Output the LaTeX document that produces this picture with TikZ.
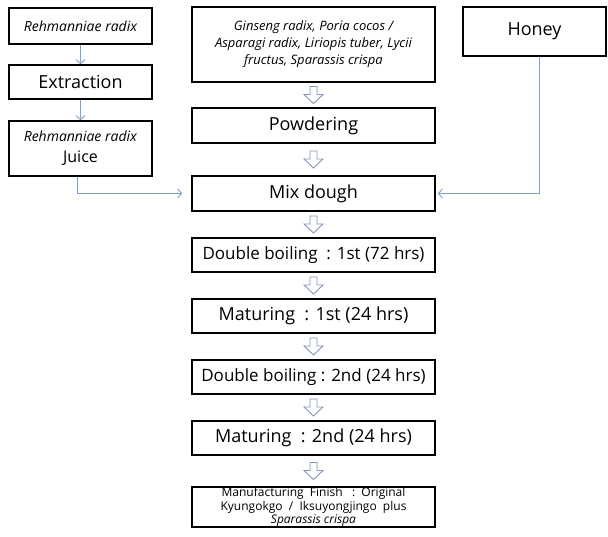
\documentclass[tikz,border=0pt]{standalone}
\usepackage{fontspec}
\setmainfont{Open Sans}
\usetikzlibrary{calc,arrows.meta}
\definecolor{linecol}{HTML}{7F9FD0}
\definecolor{arrcol}{HTML}{8096BE}
\tikzset{
  box/.style={draw=black, line width=1.6pt, minimum width=#1, inner sep=0pt, align=center, fill=white},
  box/.default=243pt,
  conn/.style={draw=linecol, line width=0.9pt, -{Straight Barb[length=4pt,width=9pt,line width=0.9pt]}},
  harrow/.pic={\draw[arrcol, line width=0.9pt, fill=white] (-3.5,8.5) -- (3.5,8.5) -- (3.5,0.5) -- (9.5,0.5) -- (0,-8.5) -- (-9.5,0.5) -- (-3.5,0.5) -- cycle;},
  big/.style={font=\fontsize{18}{21}\selectfont},
  mid/.style={font=\fontsize{17}{20}\selectfont},
  ital/.style={font=\fontsize{13}{17}\selectfont\itshape},
  lital/.style={font=\fontsize{14}{17}\selectfont\itshape},
}
\begin{document}
\begin{tikzpicture}[x=1pt,y=1pt]
\useasboundingbox (0,0) rectangle (608,-537);
% left column
\node[box=143pt, minimum height=36pt, lital] (r1) at (80.5,-26) {Rehmanniae radix};
\node[box=143pt, minimum height=34pt, big] (ex) at (80.5,-82) {Extraction};
\node[box=143pt, minimum height=55pt, font=\fontsize{14}{20}\selectfont] (ju) at (80.5,-148.5) {\textit{Rehmanniae radix}\\[1pt]{\fontsize{16}{19}\selectfont Juice}};
% middle column
\node[box, minimum height=75pt, ital] (herbs) at (313.5,-44.5) {Ginseng radix, Poria cocos /\\Asparagi radix, Liriopis tuber, Lycii\\fructus, Sparassis crispa};
\node[box, minimum height=35pt, big] (pw) at (313.5,-125.5) {Powdering};
\node[box, minimum height=35pt, big] (mx) at (313.5,-193.5) {Mix dough};
\node[box, minimum height=34pt, mid] (db1) at (313.5,-255) {Double boiling~~: 1st (72 hrs)};
\node[box, minimum height=34pt, big] (mt1) at (313.5,-316) {Maturing~~: 1st (24 hrs)};
\node[box, minimum height=34pt, mid] (db2) at (313.5,-377) {Double boiling : 2nd (24 hrs)};
\node[box, minimum height=34pt, big] (mt2) at (313.5,-438) {Maturing~~: 2nd (24 hrs)};
\node[box, minimum height=40pt, font=\fontsize{12}{13.5}\selectfont] (fin) at (313.5,-507) {Manufacturing~~Finish~~~:~~Original\\Kyungokgo~~/~~Iksuyongjingo~~plus\\\textit{Sparassis crispa}};
% right
\node[box=143pt, minimum height=49pt, big] (honey) at (534.5,-31.5) {Honey};
% thin connectors
\draw[conn] (r1) -- (ex);
\draw[conn] (ex) -- (ju);
\draw[conn, shorten >=9pt] ($(ju.south)+(-3.5,0)$) |- (mx.west);
\draw[conn, shorten >=2pt] ($(honey.south)+(4.5,0)$) |- (mx.east);
% block arrows
\pic at ($(herbs.south)!0.5!(pw.north)$) {harrow};
\pic at ($(pw.south)!0.5!(mx.north)$) {harrow};
\pic at ($(mx.south)!0.5!(db1.north)$) {harrow};
\pic at ($(db1.south)!0.5!(mt1.north)$) {harrow};
\pic at ($(mt1.south)!0.5!(db2.north)$) {harrow};
\pic at ($(db2.south)!0.5!(mt2.north)$) {harrow};
\pic at ($(mt2.south)!0.5!(fin.north)$) {harrow};
\end{tikzpicture}
\end{document}
